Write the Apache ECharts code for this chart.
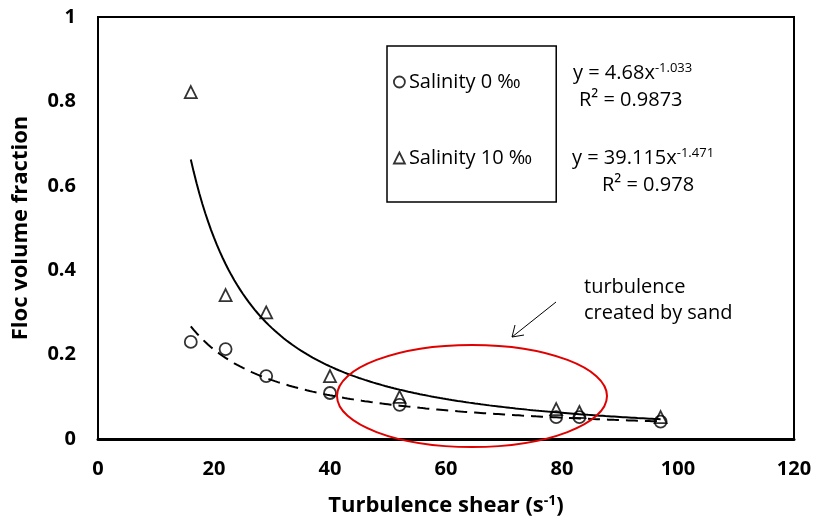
<!DOCTYPE html>
<html>
<head>
<meta charset="utf-8">
<script src="https://cdn.jsdelivr.net/npm/echarts@6/dist/echarts.min.js"></script>
<style>html,body{margin:0;padding:0;background:#fff}#c{width:816px;height:526px}</style>
</head>
<body>
<div id="c"></div>
<script>
// ---- data ----
var shear = [16, 22, 29, 40, 52, 79, 83, 97];
var sal0 = [0.23, 0.213, 0.149, 0.109, 0.081, 0.052, 0.052, 0.041];
var sal10 = [0.822, 0.341, 0.300, 0.149, 0.100, 0.071, 0.064, 0.052];
var fit0 = [4.68, -1.033];      // y = a x^b, from the chart's equation
var fit10 = [39.115, -1.471];
var xTicks = [0, 20, 40, 60, 80, 100, 120];
var yTicks = [0, 0.2, 0.4, 0.6, 0.8, 1];
var seriesNames = ['Salinity 0 ‰', 'Salinity 10 ‰'];

function pairs(xs, ys) { return xs.map(function (x, i) { return [x, ys[i]]; }); }
function trend(c) {
  var out = [];
  var x0 = shear[0], x1 = shear[shear.length - 1];
  for (var x = x0; x <= x1 + 1e-9; x += 0.5) out.push([x, c[0] * Math.pow(x, c[1])]);
  return out;
}

var FONT = '"Open Sans"';
var chart = echarts.init(document.getElementById('c'));
var supRich = { s: { fontSize: 13, fontFamily: FONT, verticalAlign: 'top', padding: [0, 0, 9, 0] } };
var option = {
  animation: false,
  textStyle: { fontFamily: FONT },
  grid: { left: 98, right: 22, top: 17, bottom: 87, show: true, borderColor: '#000', borderWidth: 2 },
  xAxis: {
    type: 'value', min: 0, max: 120, interval: 20,
    name: 'Turbulence shear (s{sup|-1})', nameLocation: 'middle', nameGap: 55,
    nameTextStyle: { fontFamily: FONT, fontWeight: 'bold', fontSize: 22, color: '#000',
      rich: { sup: { fontFamily: FONT, fontWeight: 'bold', fontSize: 14, verticalAlign: 'top', padding: [0, 0, 9, 0] } } },
    axisLine: { show: true, onZero: false, lineStyle: { color: '#000', width: 3 } },
    axisTick: { show: false }, splitLine: { show: false },
    axisLabel: { color: '#000', fontFamily: FONT, fontWeight: 'bold', fontSize: 20, margin: 20,
      formatter: function (v) { return xTicks.indexOf(v) >= 0 ? String(v) : ''; } }
  },
  yAxis: {
    type: 'value', min: 0, max: 1, interval: 0.2,
    name: 'Floc volume fraction', nameLocation: 'middle', nameGap: 66, nameRotate: 90,
    nameTextStyle: { fontFamily: FONT, fontWeight: 'bold', fontSize: 22, color: '#000' },
    axisLine: { show: true, onZero: false, lineStyle: { color: '#000', width: 2 } },
    axisTick: { show: false }, splitLine: { show: false },
    axisLabel: { color: '#000', fontFamily: FONT, fontWeight: 'bold', fontSize: 20, margin: 22,
      formatter: function (v) { var r = Math.round(v * 10) / 10; return yTicks.indexOf(r) >= 0 ? String(r) : ''; } }
  },
  legend: {
    data: [
      { name: seriesNames[0], icon: 'circle' },
      { name: seriesNames[1], icon: 'triangle' }
    ],
    orient: 'vertical', left: 387, top: 46,
    padding: [26, 24, 34, 6], itemGap: 56, itemWidth: 11, itemHeight: 11,
    borderColor: '#000', borderWidth: 1.5,
    inactiveColor: '#000',
    itemStyle: { color: '#fff', borderColor: '#000', borderWidth: 1.8 },
    textStyle: { fontFamily: FONT, fontSize: 20, color: '#000', padding: [0, 0, 0, -1] }
  },
  series: [
    { name: 'fit0', type: 'line', data: trend(fit0), showSymbol: false, symbol: 'none',
      lineStyle: { color: '#000', width: 2, type: [12, 7] }, z: 1, silent: true },
    { name: 'fit10', type: 'line', data: trend(fit10), showSymbol: false, symbol: 'none',
      lineStyle: { color: '#000', width: 2 }, z: 1, silent: true },
    { name: seriesNames[0], type: 'scatter', data: pairs(shear, sal0), symbol: 'circle', symbolSize: 12,
      itemStyle: { color: 'rgba(255,255,255,0)', borderColor: '#000', borderWidth: 1.8 }, z: 3 },
    { name: seriesNames[1], type: 'scatter', data: pairs(shear, sal10), symbol: 'triangle', symbolSize: 12,
      itemStyle: { color: 'rgba(255,255,255,0)', borderColor: '#000', borderWidth: 1.8 }, z: 3 }
  ],
  graphic: [
    { type: 'text', x: 573, y: 73, style: { text: 'y = 4.68x{s|-1.033}', font: '20px ' + FONT, fill: '#000', verticalAlign: 'middle', rich: supRich } },
    { type: 'text', x: 579, y: 100, style: { text: 'R² = 0.9873', font: '20px ' + FONT, fill: '#000', verticalAlign: 'middle' } },
    { type: 'text', x: 572, y: 158, style: { text: 'y = 39.115x{s|-1.471}', font: '20px ' + FONT, fill: '#000', verticalAlign: 'middle', rich: supRich } },
    { type: 'text', x: 602, y: 185, style: { text: 'R² = 0.978', font: '20px ' + FONT, fill: '#000', verticalAlign: 'middle' } },
    { type: 'text', x: 584, y: 287, style: { text: 'turbulence', font: '20px ' + FONT, fill: '#000', verticalAlign: 'middle' } },
    { type: 'text', x: 584, y: 313, style: { text: 'created by sand', font: '20px ' + FONT, fill: '#000', verticalAlign: 'middle' } },
    { type: 'line', shape: { x1: 556, y1: 302, x2: 512, y2: 337 }, style: { stroke: '#000', lineWidth: 1 } },
    { type: 'polyline', shape: { points: [[515, 325], [512, 337], [524, 335]] }, style: { stroke: '#000', lineWidth: 1, fill: null } },
    { type: 'ellipse', shape: { cx: 472, cy: 396, rx: 135, ry: 51 }, style: { stroke: '#e00000', lineWidth: 2, fill: null }, z: 10 }
  ]
};
chart.setOption(option);
</script>
</body>
</html>
